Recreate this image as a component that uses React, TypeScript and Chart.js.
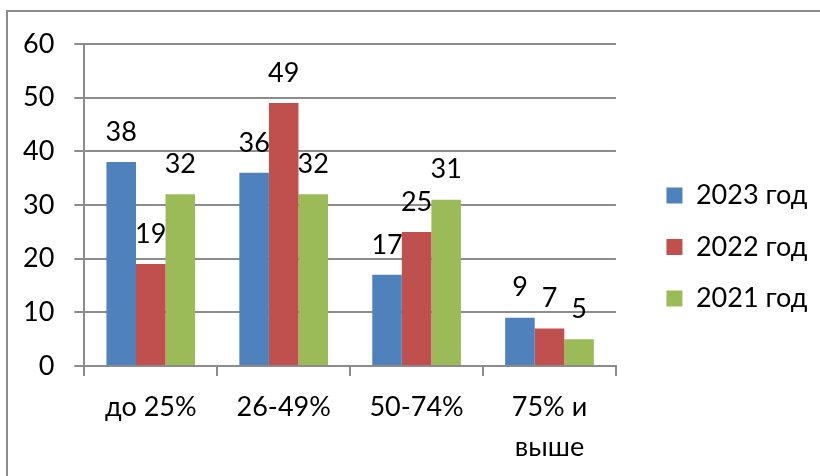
import React, { useEffect, useRef } from "react";
import { Chart, registerables } from "chart.js";

Chart.register(...registerables);

const categories: (string | string[])[] = ["до 25%", "26-49%", "50-74%", ["75% и", "выше"]];
const seriesNames = ["2023 год", "2022 год", "2021 год"];
const values2023 = [38, 36, 17, 9];
const values2022 = [19, 49, 25, 7];
const values2021 = [32, 32, 31, 5];
const yTicks = [0, 10, 20, 30, 40, 50, 60];

const colors = ["#4F81BD", "#C0504D", "#9BBB59"];
const FONT = "Lato";
const FS = 27;
const GRID = "#8c8c8c";
const LEGEND_EXTRA = 26;
const LEGEND_UP = 14;

const framePlugin = {
  id: "frame",
  beforeDraw(chart: any) {
    const ctx = chart.ctx;
    ctx.save();
    ctx.fillStyle = "#ffffff";
    ctx.fillRect(0, 0, chart.width, chart.height);
    ctx.strokeStyle = GRID;
    ctx.lineWidth = 2;
    ctx.beginPath();
    ctx.moveTo(7, chart.height + 5);
    ctx.lineTo(7, 11);
    ctx.lineTo(chart.width + 5, 11);
    ctx.stroke();
    ctx.restore();
  },
};

const legendShift = {
  id: "legendShift",
  beforeLayout(chart: any) {
    const lg = chart.legend;
    if (lg && !lg._patched) {
      const fit = lg.fit;
      lg.fit = function () {
        fit.call(this);
        this.width += LEGEND_EXTRA;
      };
      lg._patched = true;
    }
  },
  afterLayout(chart: any) {
    const lg = chart.legend;
    if (lg) {
      lg.left += LEGEND_EXTRA;
      lg.right += LEGEND_EXTRA;
      lg.top -= LEGEND_UP;
      lg.bottom -= LEGEND_UP;
    }
  },
};

const labelPlugin = {
  id: "valueLabels",
  afterDatasetsDraw(chart: any) {
    const ctx = chart.ctx;
    ctx.save();
    ctx.font = `${FS}px ${FONT}`;
    ctx.fillStyle = "#000";
    ctx.textAlign = "center";
    ctx.textBaseline = "middle";
    chart.data.datasets.forEach((ds: any, i: number) => {
      const meta = chart.getDatasetMeta(i);
      meta.data.forEach((el: any, j: number) => {
        ctx.fillText(String(ds.data[j]), el.x, el.y - 30);
      });
    });
    ctx.restore();
  },
};

export default function App() {
  const ref = useRef<HTMLCanvasElement>(null);
  useEffect(() => {
    if (!ref.current) return;
    const chart = new Chart(ref.current, {
      type: "bar",
      data: {
        labels: categories,
        datasets: [values2023, values2022, values2021].map((d, i) => ({
          label: seriesNames[i],
          data: d,
          backgroundColor: colors[i],
          borderWidth: 0,
          barPercentage: 1,
          categoryPercentage: 0.667,
        })),
      },
      options: {
        animation: false,
        responsive: false,
        devicePixelRatio: 1,
        layout: { padding: { left: 3, top: 44, bottom: -2, right: 2.5 } },
        plugins: {
          tooltip: { enabled: false },
          legend: {
            position: "right",
            labels: {
              font: { family: FONT, size: FS },
              color: "#000",
              boxWidth: 16,
              boxHeight: 16,
              padding: 24.5,
            },
          },
        },
        scales: {
          x: {
            grid: {
              offset: true,
              drawOnChartArea: false,
              drawTicks: true,
              tickLength: 10,
              color: GRID,
              lineWidth: 2,
            },
            border: { display: true, color: GRID, width: 2 },
            ticks: {
              font: { family: FONT, size: FS, lineHeight: 1.48 },
              color: "#000",
              padding: 11,
              maxRotation: 0,
              autoSkip: false,
            },
          },
          y: {
            min: 0,
            max: 60,
            afterBuildTicks: (axis: any) => {
              axis.ticks = yTicks.map((v) => ({ value: v }));
            },
            grid: {
              drawTicks: true,
              tickLength: 10,
              color: GRID,
              lineWidth: 2,
            },
            border: { display: true, color: GRID, width: 2 },
            ticks: {
              font: { family: FONT, size: FS },
              color: "#000",
              padding: 20,
            },
          },
        },
      },
      plugins: [framePlugin, legendShift, labelPlugin],
    });
    return () => chart.destroy();
  }, []);
  return (
    <div style={{ position: "fixed", left: 0, top: 0, width: 820, height: 476 }}>
      <canvas ref={ref} width={820} height={476} style={{ width: 820, height: 476 }} />
    </div>
  );
}
